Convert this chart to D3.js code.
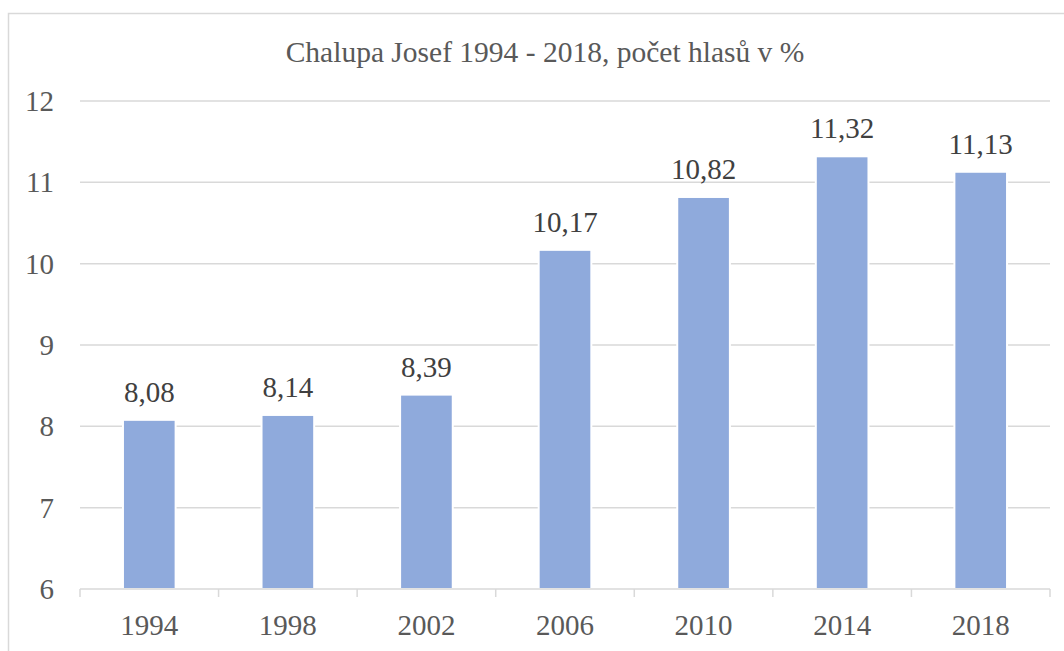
<!DOCTYPE html>
<html>
<head>
<meta charset="utf-8">
<script src="https://cdn.jsdelivr.net/npm/d3@7"></script>
<style>
  body { margin: 0; background: #fff; }
</style>
</head>
<body>
<svg id="chart"></svg>
<script>
const years = ['1994', '1998', '2002', '2006', '2010', '2014', '2018']
const values = [8.08, 8.14, 8.39, 10.17, 10.82, 11.32, 11.13]
const yTicks = [6, 7, 8, 9, 10, 11, 12]
const title = 'Chalupa Josef 1994 - 2018, počet hlasů v %'

const width = 1064
const height = 651
const margin = { top: 101, right: 14, bottom: 62, left: 80 }
const serif = 'Liberation Serif'

const svg = d3.select('svg#chart')
  .attr('width', width)
  .attr('height', height)

// chart frame
svg.append('rect')
  .attr('x', 8.5)
  .attr('y', 13.5)
  .attr('width', width + 20)
  .attr('height', height + 20)
  .attr('fill', 'none')
  .attr('stroke', '#d9d9d9')
  .attr('stroke-width', 1.5)

const x = d3.scaleBand()
  .domain(years)
  .range([margin.left, width - margin.right])
  .paddingInner(0.62)
  .paddingOuter(0.31)

const y = d3.scaleLinear()
  .domain([6, 12])
  .range([height - margin.bottom, margin.top])

svg.append('text')
  .attr('x', 545)
  .attr('y', 62)
  .attr('text-anchor', 'middle')
  .attr('fill', '#595959')
  .style('font-family', serif)
  .style('font-size', '29.5px')
  .text(title)

// gridlines
svg.append('g')
  .selectAll('line')
  .data(yTicks.filter(d => d > 6))
  .join('line')
  .attr('x1', margin.left)
  .attr('x2', width - margin.right)
  .attr('y1', d => y(d))
  .attr('y2', d => y(d))
  .attr('stroke', '#d9d9d9')
  .attr('stroke-width', 1.5)

// y labels
svg.append('g')
  .selectAll('text')
  .data(yTicks)
  .join('text')
  .attr('x', 54)
  .attr('y', d => y(d))
  .attr('dy', '0.35em')
  .attr('text-anchor', 'end')
  .attr('fill', '#595959')
  .style('font-family', serif)
  .style('font-size', '29px')
  .text(d => d)

// bars
svg.append('g')
  .selectAll('rect')
  .data(values)
  .join('rect')
  .attr('x', (d, i) => x(years[i]))
  .attr('y', d => y(d))
  .attr('width', x.bandwidth())
  .attr('height', d => y(6) - y(d))
  .attr('fill', '#8faadc')
  .attr('stroke', '#fff')
  .attr('stroke-width', 2)

// bar labels
svg.append('g')
  .selectAll('text')
  .data(values)
  .join('text')
  .attr('x', (d, i) => x(years[i]) + x.bandwidth() / 2)
  .attr('y', d => y(d) - 18)
  .attr('text-anchor', 'middle')
  .attr('fill', '#404040')
  .style('font-family', serif)
  .style('font-size', '29px')
  .text(d => d3.format('.2f')(d).replace('.', ','))

// x axis
const xAxis = svg.append('g')
xAxis.append('line')
  .attr('x1', margin.left)
  .attr('x2', width - margin.right)
  .attr('y1', y(6))
  .attr('y2', y(6))
  .attr('stroke', '#d9d9d9')
  .attr('stroke-width', 1.5)

const step = x.step()
xAxis.selectAll('.tick')
  .data(d3.range(years.length + 1))
  .join('line')
  .attr('class', 'tick')
  .attr('x1', i => margin.left + i * step)
  .attr('x2', i => margin.left + i * step)
  .attr('y1', y(6))
  .attr('y2', y(6) + 8)
  .attr('stroke', '#d9d9d9')
  .attr('stroke-width', 1.5)

xAxis.selectAll('text')
  .data(years)
  .join('text')
  .attr('x', d => x(d) + x.bandwidth() / 2)
  .attr('y', 635)
  .attr('text-anchor', 'middle')
  .attr('fill', '#595959')
  .style('font-family', serif)
  .style('font-size', '29px')
  .text(d => d)
</script>
</body>
</html>
